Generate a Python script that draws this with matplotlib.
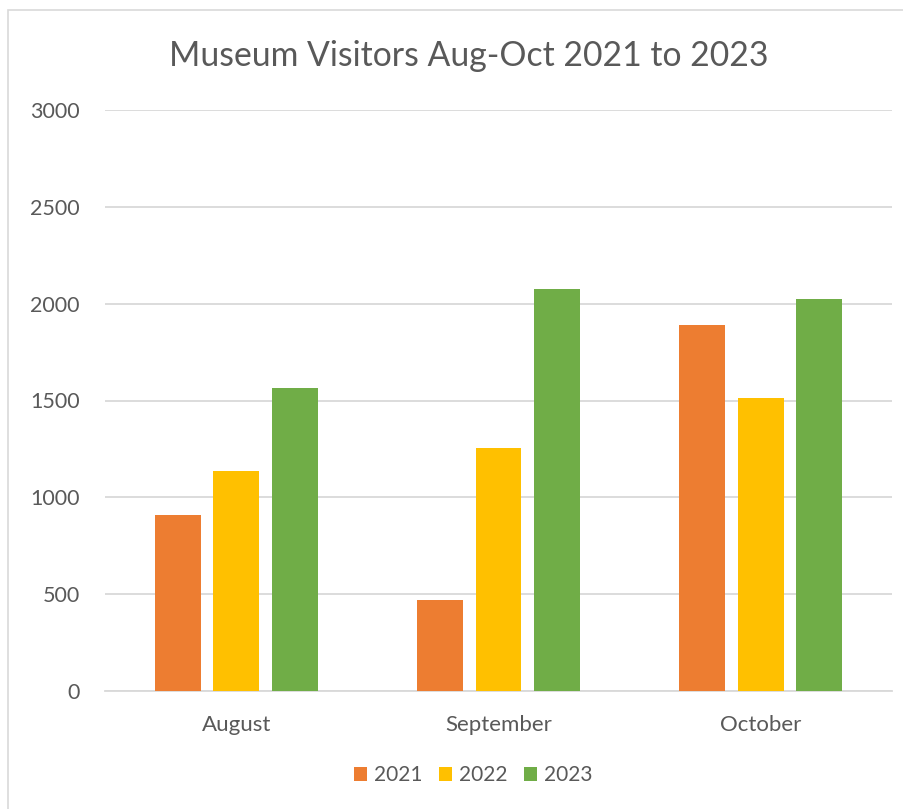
import numpy as np
import matplotlib
matplotlib.use("Agg")
import matplotlib.pyplot as plt
import matplotlib.patches as patches

# monthly visitor counts per year
months = ["August", "September", "October"]
years = ["2021", "2022", "2023"]
visitors_2021 = [907, 468, 1888]
visitors_2022 = [1136, 1253, 1513]
visitors_2023 = [1563, 2075, 2025]
series = [visitors_2021, visitors_2022, visitors_2023]
colors = ["#ED7D31", "#FFC000", "#70AD47"]

plt.rcParams["font.family"] = ["Lato", "DejaVu Sans"]
TEXT = "#595959"

W, H = 904, 809
fig = plt.figure(figsize=(W / 100, H / 100), dpi=100)
fig.patch.set_facecolor("white")

# chart frame (only left and top edges fall inside the canvas)
fig.patches.append(patches.Rectangle((8 / W, -0.1), 1.2, 1 - 10 / H + 0.1,
                                     transform=fig.transFigure, fill=False,
                                     edgecolor="#D9D9D9", linewidth=1.2))

ax = fig.add_axes([105 / W, 1 - 691 / H, (892 - 105) / W, (691 - 110) / H])

x = np.arange(len(months))
width = 0.175
step = 0.223
for i, (vals, c, yr) in enumerate(zip(series, colors, years)):
    ax.bar(x + (i - 1) * step, vals, width, color=c, label=yr, zorder=3)

ax.set_xlim(-0.5, 2.5)
ax.set_ylim(0, 3000)
ax.set_yticks(np.arange(0, 3001, 500))
ax.yaxis.grid(True, color="#D9D9D9", linewidth=1.3, zorder=0)
ax.set_xticks(x)
ax.set_xticklabels(months)
ax.tick_params(axis="both", length=0, colors=TEXT)
ax.tick_params(axis="y", labelsize=15.5, pad=18)
ax.tick_params(axis="x", labelsize=16, pad=17)
for s in ["top", "right", "left"]:
    ax.spines[s].set_visible(False)
ax.spines["bottom"].set_color("#D9D9D9")
ax.spines["bottom"].set_linewidth(1.3)

fig.text(469 / W, 1 - 56 / H, "Museum Visitors Aug-Oct 2021 to 2023",
         ha="center", va="center", fontsize=24.3, color=TEXT)

leg = fig.legend(loc="center", bbox_to_anchor=(473 / W, 1 - 775 / H), ncol=3,
                 frameon=False, fontsize=15, handlelength=0.65, handleheight=0.65,
                 handletextpad=0.3, columnspacing=0.8)
for t in leg.get_texts():
    t.set_color(TEXT)

fig.savefig("out.png", dpi=100)
